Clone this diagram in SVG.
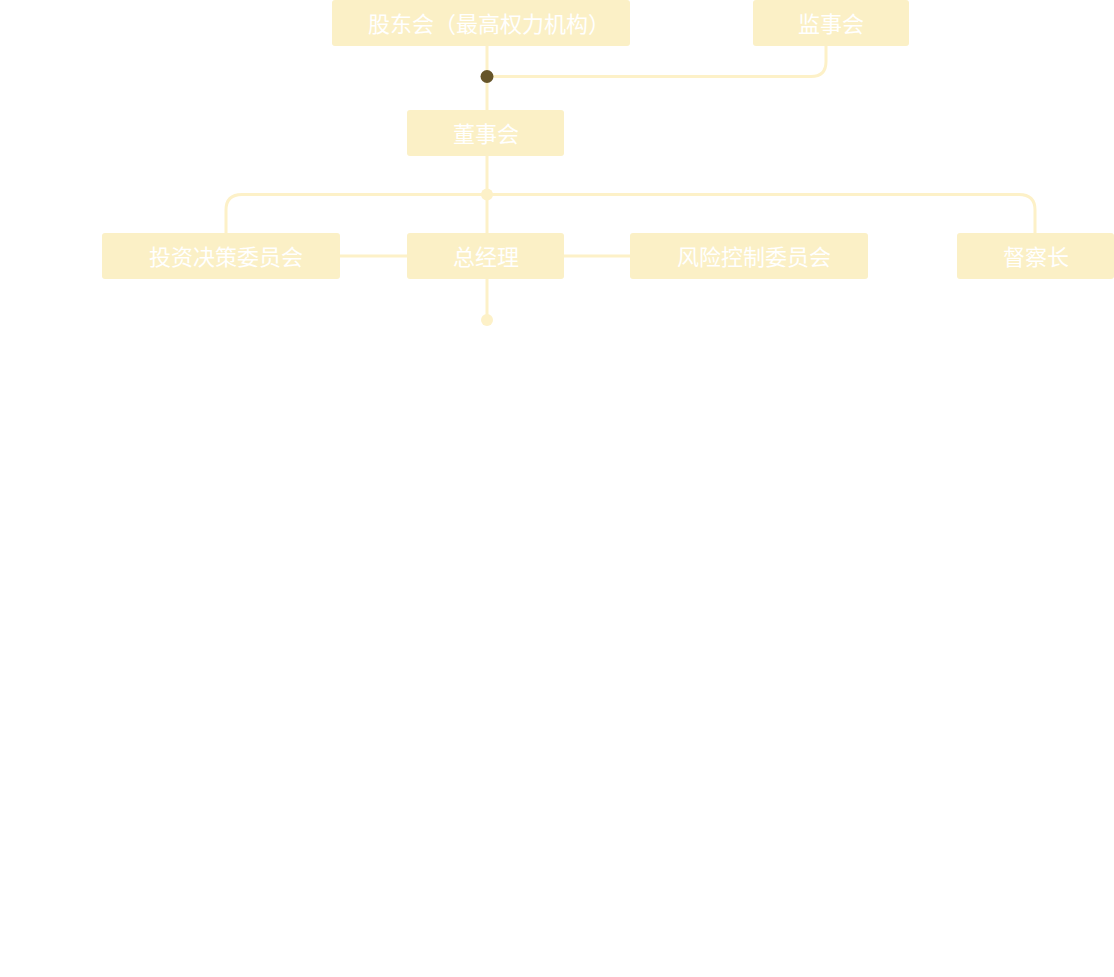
<svg xmlns="http://www.w3.org/2000/svg" width="1114" height="977" viewBox="0 0 1114 977">
<style>
.box{fill:#fbf0c6;}
.lbl{fill:#ffffff;font-family:"Noto Sans CJK SC","Noto Sans",sans-serif;font-size:22px;text-anchor:middle;dominant-baseline:central;}
.ln{fill:none;stroke:#fdf1c8;stroke-width:3;}
</style>
<rect width="1114" height="977" fill="#ffffff"/>
<g id="connectors">
<path class="ln" d="M487 46 V110"/>
<path class="ln" d="M487 76.5 H811 Q826 76.5 826 61.5 V46"/>
<path class="ln" d="M487 156 V233"/>
<path class="ln" d="M226 233 V210 Q226 194.5 242 194.5 H1019 Q1035 194.5 1035 210 V233"/>
<path class="ln" d="M340 256 H407"/>
<path class="ln" d="M564 256 H630"/>
<path class="ln" d="M487 279 V320"/>
<circle cx="487" cy="194.5" r="6" fill="#fdf1c8"/>
<circle cx="487" cy="320" r="6" fill="#fdf1c8"/>
<circle cx="487" cy="76.5" r="6.5" fill="#66552a"/>
</g>
<g id="n-gudonghui"><rect class="box" x="332" y="0" width="298" height="46" rx="3"/><text class="lbl" x="489" y="21.5">股东会（最高权力机构）</text></g>
<g id="n-jianshihui"><rect class="box" x="753" y="0" width="156" height="46" rx="3"/><text class="lbl" x="831" y="21.5">监事会</text></g>
<g id="n-dongshihui"><rect class="box" x="407" y="110" width="157" height="46" rx="3"/><text class="lbl" x="486" y="131.5">董事会</text></g>
<g id="n-touzi"><rect class="box" x="102" y="233" width="238" height="46" rx="3"/><text class="lbl" x="226" y="254.5">投资决策委员会</text></g>
<g id="n-zongjingli"><rect class="box" x="407" y="233" width="157" height="46" rx="3"/><text class="lbl" x="486" y="254.5">总经理</text></g>
<g id="n-fengxian"><rect class="box" x="630" y="233" width="238" height="46" rx="3"/><text class="lbl" x="754" y="254.5">风险控制委员会</text></g>
<g id="n-ducha"><rect class="box" x="957" y="233" width="157" height="46" rx="3"/><text class="lbl" x="1036" y="254.5">督察长</text></g>
</svg>
